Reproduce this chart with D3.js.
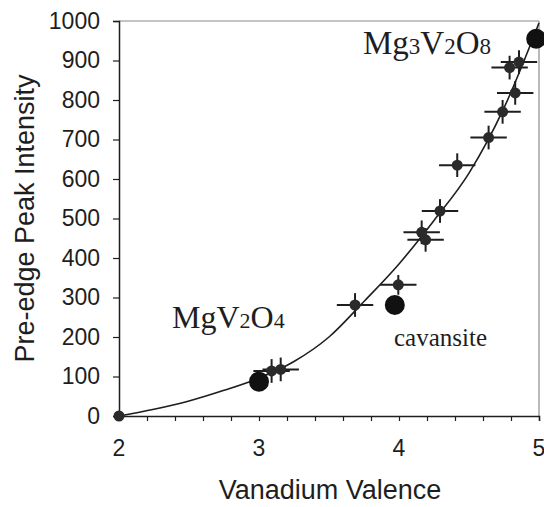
<!DOCTYPE html>
<html>
<head>
<meta charset="utf-8">
<script src="https://cdn.jsdelivr.net/npm/d3@7"></script>
<style>
  body { margin: 0; background: #fff; }
</style>
</head>
<body>
<svg id="chart" width="544" height="507"></svg>
<script>
// measured samples (valence, pre-edge peak intensity) with error bars
const sampleValence = [2.0, 3.09, 3.155, 3.686, 3.995, 4.162, 4.19, 4.293, 4.416, 4.64, 4.74, 4.79, 4.83, 4.857];
const sampleIntensity = [0, 114, 118, 281, 332, 465, 446, 519, 635, 705, 770, 882, 818, 896];
const sampleValenceErr = [0, 0.13, 0.13, 0.13, 0.13, 0.13, 0.13, 0.13, 0.13, 0.13, 0.13, 0.13, 0.13, 0.13];
const sampleIntensityErr = [0, 30, 30, 30, 25, 30, 30, 30, 30, 30, 30, 30, 30, 30];

// reference compounds (big dots)
const refNames = ["MgV2O4", "cavansite", "Mg3V2O8"];
const refValence = [3.0, 3.97, 4.98];
const refIntensity = [87, 281, 955];

// fitted curve
const curveValence = [2.0, 2.25, 2.5, 2.75, 3.0, 3.25, 3.5, 3.75, 4.0, 4.25, 4.5, 4.75, 5.0];
const curveIntensity = [0, 17, 38, 65, 96, 138, 200, 290, 385, 495, 615, 780, 995];

const xTicks = [2, 3, 4, 5];
const yTicks = [0, 100, 200, 300, 400, 500, 600, 700, 800, 900, 1000];

const svg = d3.select("#chart");
const margin = {top: 21, right: 5, bottom: 91, left: 119};
const width = 544, height = 507;
const ink = "#1e1e1e";
const sans = "Liberation Sans, Arial, sans-serif";

const x = d3.scaleLinear([2, 5], [margin.left, width - margin.right]);
const y = d3.scaleLinear([0, 1000], [height - margin.bottom, margin.top]);

// frame: top and right edges are faint in the original
svg.append("line")
    .attr("x1", x(2)).attr("x2", x(5))
    .attr("y1", y(1000)).attr("y2", y(1000))
    .attr("stroke", "#8a8a8a").attr("stroke-width", 1.2);
svg.append("line")
    .attr("x1", x(5)).attr("x2", x(5))
    .attr("y1", y(1000)).attr("y2", y(0))
    .attr("stroke", "#8a8a8a").attr("stroke-width", 1.2);

// x axis
svg.append("g")
    .attr("transform", `translate(0,${y(0)})`)
    .call(d3.axisBottom(x).tickValues(d3.range(2, 5.001, 0.2)).tickSize(5).tickFormat(""))
    .call(g => g.select(".domain").attr("stroke", ink).attr("stroke-width", 1.5))
    .call(g => g.selectAll(".tick line").attr("stroke", ink).attr("stroke-width", 1.2));
svg.append("g")
    .selectAll("text")
    .data(xTicks)
    .join("text")
      .attr("x", d => x(d))
      .attr("y", 456)
      .attr("text-anchor", "middle")
      .attr("font-family", sans)
      .attr("font-size", 23)
      .attr("fill", ink)
      .text(d => d);

// y axis
svg.append("g")
    .attr("transform", `translate(${x(2)},0)`)
    .call(d3.axisLeft(y).tickValues(yTicks).tickSize(6).tickPadding(13).tickFormat(d3.format("d")))
    .call(g => g.select(".domain").attr("stroke", ink).attr("stroke-width", 1.5))
    .call(g => g.selectAll(".tick line").attr("stroke", ink).attr("stroke-width", 1.2))
    .call(g => g.selectAll(".tick text")
      .attr("font-family", sans)
      .attr("font-size", 23)
      .attr("fill", ink));

// axis titles
svg.append("text")
    .attr("x", 330)
    .attr("y", 499)
    .attr("text-anchor", "middle")
    .attr("font-family", sans)
    .attr("font-size", 27)
    .attr("fill", ink)
    .text("Vanadium Valence");
svg.append("text")
    .attr("transform", `translate(34,${(y(0) + y(1000)) / 2}) rotate(-90)`)
    .attr("text-anchor", "middle")
    .attr("font-family", sans)
    .attr("font-size", 27)
    .attr("fill", ink)
    .text("Pre-edge Peak Intensity");

// fitted curve
const line = d3.line()
    .x(d => x(d[0]))
    .y(d => y(d[1]))
    .curve(d3.curveMonotoneX);
svg.append("path")
    .datum(d3.zip(curveValence, curveIntensity))
    .attr("fill", "none")
    .attr("stroke", ink)
    .attr("stroke-width", 1.6)
    .attr("d", line);

// error bars
const samples = sampleValence.map((v, i) => ({
  x: v, y: sampleIntensity[i], ex: sampleValenceErr[i], ey: sampleIntensityErr[i]
}));
const bars = svg.append("g")
    .attr("stroke", ink)
    .attr("stroke-width", 2);
bars.selectAll("line.h")
  .data(samples.filter(d => d.ex > 0))
  .join("line")
    .attr("class", "h")
    .attr("x1", d => x(d.x - d.ex)).attr("x2", d => x(d.x + d.ex))
    .attr("y1", d => y(d.y)).attr("y2", d => y(d.y));
bars.selectAll("line.v")
  .data(samples.filter(d => d.ey > 0))
  .join("line")
    .attr("class", "v")
    .attr("x1", d => x(d.x)).attr("x2", d => x(d.x))
    .attr("y1", d => y(d.y - d.ey)).attr("y2", d => y(d.y + d.ey));

// sample dots
svg.append("g")
  .selectAll("circle")
  .data(samples)
  .join("circle")
    .attr("cx", d => x(d.x))
    .attr("cy", d => y(d.y))
    .attr("r", 5.5)
    .attr("fill", "#2a2a2a");

// reference dots
svg.append("g")
  .selectAll("circle")
  .data(d3.zip(refValence, refIntensity))
  .join("circle")
    .attr("cx", d => x(d[0]))
    .attr("cy", d => y(d[1]))
    .attr("r", 10)
    .attr("fill", "#111");

// compound labels, subscripts drawn smaller on the baseline
function formula(parts, px, py, big, small) {
  const t = svg.append("text")
      .attr("x", px)
      .attr("y", py)
      .attr("font-family", "Liberation Serif, Times New Roman, serif")
      .attr("fill", ink);
  parts.forEach(p => {
    t.append("tspan")
      .attr("font-size", /\d/.test(p) ? small : big)
      .text(p);
  });
}
formula(["Mg", "3", "V", "2", "O", "8"], 363, 54, 33, 23);
formula(["Mg", "V", "2", "O", "4"], 172, 328, 32, 22);
svg.append("text")
    .attr("x", 394)
    .attr("y", 346)
    .attr("font-family", "Liberation Serif, Times New Roman, serif")
    .attr("font-size", 25)
    .attr("fill", ink)
    .text(refNames[1]);
</script>
</body>
</html>
